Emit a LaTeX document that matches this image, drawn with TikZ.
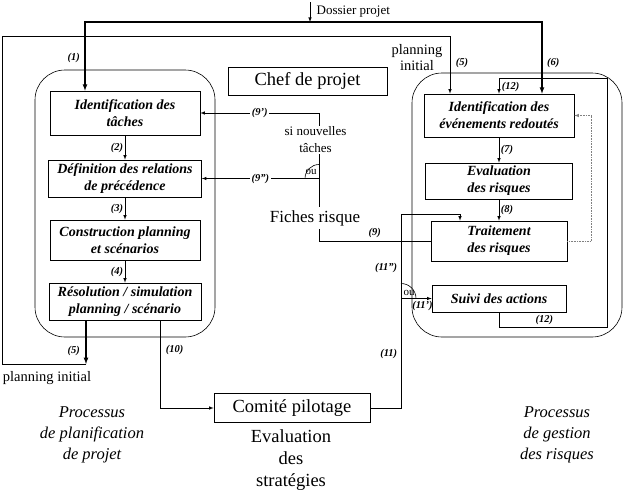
\documentclass[tikz,border=0pt]{standalone}
\usepackage{fontspec}
\setmainfont{Liberation Serif}
\usetikzlibrary{positioning,arrows}

\begin{document}
\begin{tikzpicture}[
	x=1pt, y=-1pt,
	line width=0.6pt,
	mybox/.style={draw, rectangle, align=center, inner sep=2pt, font=\fontsize{14}{17}\selectfont\bfseries\itshape},
	bigbox/.style={draw, rectangle, rounded corners=30pt},
	plainbox/.style={draw, rectangle, align=center, font=\fontsize{18.5}{21}\selectfont},
	num/.style={font=\fontsize{10.5}{12}\selectfont\bfseries\itshape, inner sep=1.5pt},
	txt/.style={align=center, inner sep=1pt, font=\fontsize{14.5}{16}\selectfont},
	proc/.style={align=center, font=\fontsize{16.5}{21}\selectfont\itshape},
	heavy/.style={line width=1.2pt}
	]

	\useasboundingbox (0,0) rectangle (624,490);

	% the two processes
	\node[bigbox, minimum width=180pt, minimum height=267pt] (plan) at (125,203.5) {};
	\node[bigbox, minimum width=210pt, minimum height=264pt] (risk) at (517,205) {};

	\node[mybox, minimum width=150pt, minimum height=44pt] (tch) at (125,113) {Identification des\\tâches};
	\node[mybox, minimum width=153pt, minimum height=37pt] (rel) at (125,178.5) {Définition des relations\\de précédence};
	\node[mybox, minimum width=150pt, minimum height=40pt] (cons) at (125,240) {Construction planning\\et scénarios};
	\node[mybox, minimum width=152pt, minimum height=37pt] (res) at (125,301.5) {Résolution / simulation\\planning / scénario};

	\node[mybox, minimum width=150pt, minimum height=43pt] (evt) at (499,115.5) {Identification des\\événements redoutés};
	\node[mybox, minimum width=147pt, minimum height=36pt] (eval) at (499,181) {Evaluation\\des risques};
	\node[mybox, minimum width=136pt, minimum height=40pt] (trt) at (499,241) {Traitement\\des risques};
	\node[mybox, minimum width=134pt, minimum height=27pt] (suivi) at (499,298.5) {Suivi des actions};

	\node[plainbox, minimum width=159pt, minimum height=28pt] (chef) at (307.5,81) {Chef de projet};
	\node[plainbox, minimum width=156pt, minimum height=29pt] (com) at (292,408) {Comité pilotage};

	\node[align=center, inner sep=1pt, font=\fontsize{13}{17}\selectfont] (si) at (315.5,140) {si nouvelles\\tâches};
	\node[font=\fontsize{17}{19}\selectfont] (fic) at (315,218) {Fiches risque};
	\node[txt] (pit) at (417,58) {planning\\initial};
	\node[txt] (pin) at (47,378) {planning initial};

	\node[proc] (pp) at (92,435) {Processus\\de planification\\de projet};
	\node[proc] (pg) at (557,435) {Processus\\de gestion\\des risques};
	\node[align=center, font=\fontsize{18.5}{22}\selectfont] (evs) at (291,460) {Evaluation\\des\\stratégies};

	% dossier projet
	\coordinate (dtop) at (310,2);
	\coordinate (dsp) at (310,22);
	\draw[-latex] (dtop) -- node[right=3pt, font=\fontsize{13}{15}\selectfont] {Dossier projet} (dsp);
	\draw[heavy,-latex] (dsp) -| node[num, pos=.76, left=3pt] {(1)} ([xshift=-40pt]tch.north);
	\draw[heavy,-latex] (dsp) -| node[num, pos=.785, right=3pt] {(6)} ([xshift=43pt]evt.north);

	% planning initial
	\coordinate (pib) at (86,364);
	\coordinate (pl) at (2,36);
	\draw[heavy,-latex] ([xshift=-39pt]res.south) -- node[num, pos=.7, left=4pt] {(5)} (pib);
	\draw[-latex] (pib) -| (pl) -| node[num, pos=.73, right=4pt] {(5)} ([xshift=-49pt]evt.north);

	\path (tch) edge[-latex] node[num, left] {(2)} (rel)
	(rel) edge[-latex] node[num, left] {(3)} (cons)
	(cons) edge[-latex] node[num, left] {(4)} (res)
	(evt) edge[-latex] node[num, right] {(7)} (eval)
	(eval) edge[-latex] node[num, right] {(8)} (trt);

	% fiches risque
	\coordinate (f1) at (319,241);
	\draw (trt.west) -- node[num, above=1pt] {(9)} (f1) -- (f1 |- fic.south);
	\draw (f1 |- fic.north) -- (f1 |- si.south);
	\coordinate (j9) at (rel.east -| f1);
	\draw[-latex] (j9) -- node[num, fill=white] {(9'')} (rel.east);
	\draw[-latex] (f1 |- si.north) |- node[num, pos=.75, fill=white] {(9')} (tch.east);
	\draw ([xshift=-14pt]j9) arc[start angle=180, end angle=90, radius=14pt];
	\node[inner sep=0pt, font=\fontsize{11}{12}\selectfont] (ou1) at (311,172) {ou};

	% comite pilotage
	\draw[-latex] ([xshift=35pt]res.south) |- node[num, pos=.17, right=4pt] {(10)} (com.west);
	\coordinate (c11) at (401,214);
	\draw (com.east) -| node[num, pos=.64, left=2pt] {(11)} node[num, pos=.86, left=2pt] {(11'')} (c11);
	\draw[-latex] (c11) -| ([xshift=-39pt]trt.north);
	\coordinate (c11b) at (suivi.west -| c11);
	\draw[-latex] (c11b) -- node[num, pos=.7, below=1pt] {(11')} (suivi.west);
	\draw ([yshift=15pt]c11b) arc[start angle=90, end angle=0, radius=15pt];
	\node[inner sep=0pt, font=\fontsize{11}{12}\selectfont] (ou2) at (409,293) {ou};

	% retour (12)
	\coordinate (r12a) at (607,327);
	\coordinate (r12b) at (607,78);
	\draw[-latex] (suivi.south) |- node[num, pos=.71, above=0pt] {(12)} (r12a) -- (r12b) -| node[num, pos=.8, right=1pt] {(12)} (evt.north);

	\coordinate (dt) at (591,0);
	\draw[densely dotted, gray, -latex] (trt.east) -| (dt |- evt.east) -- (evt.east);

\end{tikzpicture}
\end{document}
